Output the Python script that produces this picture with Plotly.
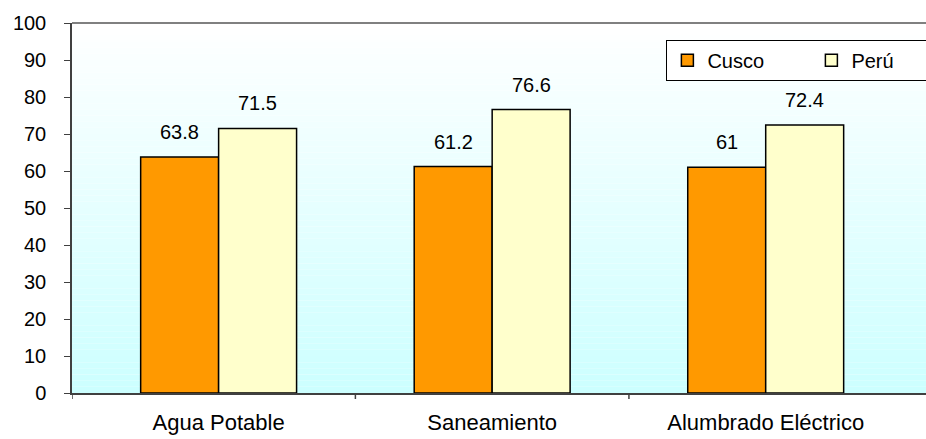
import plotly.graph_objects as go

# Coverage of basic services (%), Cusco vs Perú
categories = ["Agua Potable", "Saneamiento", "Alumbrado Eléctrico"]
cusco = [63.8, 61.2, 61]
peru = [71.5, 76.6, 72.4]
y_ticks = [0, 10, 20, 30, 40, 50, 60, 70, 80, 90, 100]

FONT = "Liberation Sans, Arial, sans-serif"
PLOT_W = 854           # pixel width of the plot area
X_RANGE = [-0.536, 2.586]
BARGAP = 0.43

fig = go.Figure()
fig.add_trace(go.Bar(
    name="Cusco", x=categories, y=cusco,
    marker=dict(color="#FF9900", line=dict(color="#000000", width=1.5)),
))
fig.add_trace(go.Bar(
    name="Perú", x=categories, y=peru,
    marker=dict(color="#FFFFCC", line=dict(color="#000000", width=1.5)),
))

# value labels above each bar, offset to the centre of its bar
px_per_cat = PLOT_W / (X_RANGE[1] - X_RANGE[0])
half_bar = px_per_cat * (1 - BARGAP) / 4
annotations = []
for vals, sign in ((cusco, -1), (peru, 1)):
    for cat, v in zip(categories, vals):
        annotations.append(dict(
            x=cat, y=v, xref="x", yref="y", text=f"{v:g}", showarrow=False,
            xanchor="center", yanchor="bottom", xshift=sign * half_bar,
            yshift=12, font=dict(family=FONT, size=20, color="#000000"),
        ))

# vertical gradient background: white at the top, pale cyan at the bottom
shapes = []
n = 60
top = (255, 255, 255)
bot = (204, 255, 255)
for i in range(n):
    t = (i + 0.5) / n
    c = tuple(round(bot[k] + (top[k] - bot[k]) * t) for k in range(3))
    shapes.append(dict(
        type="rect", xref="x domain", yref="y domain",
        x0=0, x1=1, y0=i / n, y1=(i + 1) / n,
        fillcolor=f"rgb{c}", line=dict(width=0), layer="below",
    ))
# top border of the plot area
shapes.append(dict(
    type="line", xref="x domain", yref="y domain",
    x0=0, x1=1, y0=1, y1=1, line=dict(color="#808080", width=2),
))
# category-axis tick marks: at the axis corner and between categories
tick_positions = [X_RANGE[0]] + [i + 0.5 for i in range(len(categories) - 1)]
for xp in tick_positions:
    shapes.append(dict(
        type="line", xref="x", yref="paper", ysizemode="pixel", yanchor=0,
        x0=xp, x1=xp, y0=0, y1=-6, line=dict(color="#404040", width=1.5),
    ))

fig.update_layout(
    width=926, height=439,
    margin=dict(l=72, r=0, t=23, b=46, autoexpand=False),
    paper_bgcolor="#FFFFFF", plot_bgcolor="rgba(0,0,0,0)",
    font=dict(family=FONT, size=20, color="#000000"),
    barmode="group", bargap=BARGAP, bargroupgap=0,
    shapes=shapes, annotations=annotations,
    showlegend=True,
    legend=dict(
        orientation="h", x=0.696, y=0.955, xanchor="left", yanchor="top",
        bgcolor="#FFFFFF", bordercolor="#000000", borderwidth=1,
        font=dict(family=FONT, size=20),
        entrywidth=99, entrywidthmode="pixels",
    ),
)
fig.update_xaxes(
    range=X_RANGE, ticks="", showline=True, linecolor="#404040",
    linewidth=1.5, showgrid=False, tickfont=dict(size=22), fixedrange=True,
    ticklabelstandoff=9,
)
fig.update_yaxes(
    range=[0, 100], tickvals=y_ticks, ticks="outside", ticklen=6,
    tickcolor="#404040", showline=True, linecolor="#404040", linewidth=1.5,
    showgrid=False, zeroline=False, tickfont=dict(size=20), fixedrange=True,
    ticklabelstandoff=14,
)

fig.write_html("out.html")
